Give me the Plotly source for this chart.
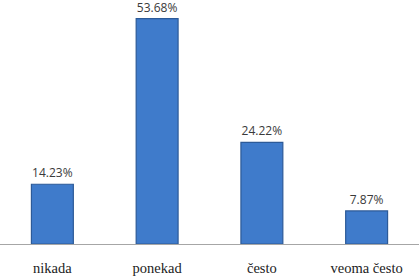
import plotly.graph_objects as go

categories = ["nikada", "ponekad", "često", "veoma često"]
values = [14.23, 53.68, 24.22, 7.87]
labels = ["14.23%", "53.68%", "24.22%", "7.87%"]

fig = go.Figure()
fig.add_trace(go.Bar(
    x=categories, y=values, text=labels, textposition="outside",
    textfont=dict(family="Open Sans, DejaVu Sans, sans-serif", size=12, color="#3a3a3a"),
    marker=dict(color="#3f7bcb", line=dict(color="#2c5a98", width=1.2)),
    width=0.4, cliponaxis=False,
))
fig.update_layout(
    width=419, height=277,
    margin=dict(l=0, r=0, t=0, b=33),
    paper_bgcolor="white", plot_bgcolor="white",
    showlegend=False, bargap=0.6,
    xaxis=dict(range=[-0.5, 3.5], showline=True, linecolor="#a6a6a6", linewidth=1,
               ticks="outside", ticklen=11, tickcolor="rgba(0,0,0,0)",
               tickfont=dict(family="Liberation Serif, Times New Roman, serif", size=14.5, color="#222"),
               showgrid=False, zeroline=False),
    yaxis=dict(range=[0, 58.1], visible=False, showgrid=False, zeroline=False),
)
fig.write_html("out.html")
